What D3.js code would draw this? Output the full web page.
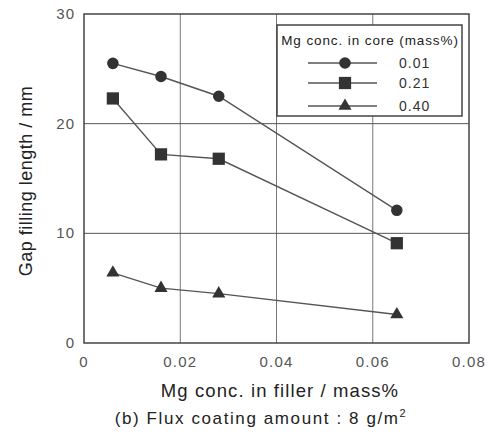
<!DOCTYPE html>
<html>
<head>
<meta charset="utf-8">
<script src="https://cdn.jsdelivr.net/npm/d3@7"></script>
<style>
  body { margin: 0; background: #fff; }
  text { font-family: "Liberation Sans", Arial, sans-serif; }
</style>
</head>
<body>
<svg id="chart" width="489" height="437"></svg>
<script>
// data
var xValues = [0.006, 0.016, 0.028, 0.065];
var core001 = [25.5, 24.3, 22.5, 12.1];
var core021 = [22.3, 17.2, 16.8, 9.1];
var core040 = [6.4, 5.0, 4.5, 2.6];
var seriesNames = ['0.01', '0.21', '0.40'];
var xTicks = [0, 0.02, 0.04, 0.06, 0.08];
var yTicks = [0, 10, 20, 30];

var series = [
  {name: seriesNames[0], values: core001, symbol: d3.symbolCircle, size: 105},
  {name: seriesNames[1], values: core021, symbol: d3.symbolSquare, size: 150},
  {name: seriesNames[2], values: core040, symbol: d3.symbolTriangle, size: 75}
];

var margin = {left: 84, top: 14, right: 20, bottom: 94};
var width = 489 - margin.left - margin.right;
var height = 437 - margin.top - margin.bottom;

var svg = d3.select('#chart');
var g = svg.append('g').attr('transform', 'translate(' + margin.left + ',' + margin.top + ')');

var x = d3.scaleLinear().domain([0, 0.08]).range([0, width]);
var y = d3.scaleLinear().domain([0, 30]).range([height, 0]);

// grid
g.selectAll('line.gx').data(xTicks.slice(1, -1)).enter().append('line')
  .attr('x1', d => x(d)).attr('x2', d => x(d)).attr('y1', 0).attr('y2', height)
  .attr('stroke', '#777').attr('stroke-width', 1);
g.selectAll('line.gy').data(yTicks.slice(1, -1)).enter().append('line')
  .attr('y1', d => y(d)).attr('y2', d => y(d)).attr('x1', 0).attr('x2', width)
  .attr('stroke', '#555').attr('stroke-width', 1);

g.append('rect').attr('width', width).attr('height', height)
  .attr('fill', 'none').attr('stroke', '#444').attr('stroke-width', 1.5);

// tick labels
g.selectAll('text.xt').data(xTicks).enter().append('text')
  .attr('x', d => x(d)).attr('y', height + 24)
  .attr('text-anchor', 'middle').attr('font-size', 15).attr('letter-spacing', 1.2).attr('fill', '#555')
  .text(d => d === 0 ? '0' : d.toFixed(2));
g.selectAll('text.yt').data(yTicks).enter().append('text')
  .attr('x', -9).attr('y', d => y(d) + 5)
  .attr('text-anchor', 'end').attr('font-size', 15).attr('letter-spacing', 1).attr('fill', '#555')
  .text(d => d);

// lines and markers
var line = d3.line().x((d, i) => x(xValues[i])).y(d => y(d));
series.forEach(function(s) {
  g.append('path').attr('d', line(s.values))
    .attr('fill', 'none').attr('stroke', '#555').attr('stroke-width', 1.4);
  g.selectAll(null).data(s.values).enter().append('path')
    .attr('d', d3.symbol().type(s.symbol).size(s.size))
    .attr('transform', (d, i) => 'translate(' + x(xValues[i]) + ',' + y(d) + ')')
    .attr('fill', '#333');
});

// legend
var lg = svg.append('g').attr('transform', 'translate(277,25)');
lg.append('rect').attr('width', 185).attr('height', 91)
  .attr('fill', '#fff').attr('stroke', '#444').attr('stroke-width', 1.5);
lg.append('text').attr('x', 93).attr('y', 20).attr('text-anchor', 'middle')
  .attr('font-size', 13.5).attr('letter-spacing', 0.9).attr('fill', '#222').text('Mg conc. in core (mass%)');
var rows = lg.selectAll('g.row').data(series).enter().append('g')
  .attr('transform', (d, i) => 'translate(0,' + [38, 58, 81][i] + ')');
rows.append('line').attr('x1', 31).attr('x2', 100).attr('stroke', '#555').attr('stroke-width', 1.4);
rows.append('path').attr('d', d => d3.symbol().type(d.symbol).size(d.size)())
  .attr('transform', 'translate(68,0)').attr('fill', '#333');
rows.append('text').attr('x', 122).attr('y', 5).attr('font-size', 14).attr('fill', '#333')
  .attr('letter-spacing', 1).text(d => d.name);

// axis titles
svg.append('text').attr('transform', 'translate(32,181) rotate(-90)')
  .attr('text-anchor', 'middle').attr('font-size', 18).attr('letter-spacing', 0.5).attr('fill', '#222')
  .text('Gap filling length / mm');
svg.append('text').attr('x', 280).attr('y', 397).attr('text-anchor', 'middle')
  .attr('font-size', 18.5).attr('letter-spacing', 1.1).attr('fill', '#222').text('Mg conc. in filler / mass%');
var sub = svg.append('text').attr('x', 261).attr('y', 424).attr('text-anchor', 'middle')
  .attr('font-size', 17).attr('letter-spacing', 1.6).attr('fill', '#222');
sub.append('tspan').text('(b) Flux coating amount : 8 g/m');
sub.append('tspan').attr('dy', -7).attr('font-size', 11).text('2');
</script>
</body>
</html>
